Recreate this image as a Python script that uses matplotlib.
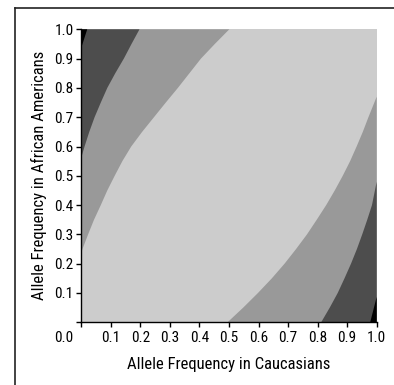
import matplotlib
matplotlib.use("Agg")
import matplotlib.pyplot as plt
from matplotlib.lines import Line2D

plt.rcParams['font.family'] = ['Roboto Condensed', 'DejaVu Sans']

# Contour boundaries (x = Caucasians, y = African Americans)
# upper-left side
ul_light_x = [0.0, 0.004, 0.023, 0.043, 0.066, 0.088, 0.113, 0.139, 0.169, 0.206,
              0.246, 0.286, 0.327, 0.366, 0.405, 0.452, 0.501]
ul_light_y = [0.2375, 0.25, 0.3, 0.35, 0.4, 0.45, 0.5, 0.55, 0.6, 0.65,
              0.7, 0.75, 0.8, 0.85, 0.9, 0.95, 1.0]
ul_dark_x = [0.0, 0.011, 0.027, 0.045, 0.066, 0.088, 0.115, 0.144, 0.170, 0.197]
ul_dark_y = [0.562, 0.6, 0.65, 0.7, 0.75, 0.8, 0.85, 0.9, 0.95, 1.0]
ul_black_x = [0.0, 0.02]
ul_black_y = [0.937, 1.0]
# lower-right side
lr_light_x = [0.495, 0.548, 0.598, 0.645, 0.688, 0.727, 0.764, 0.797, 0.829, 0.858,
              0.885, 0.910, 0.932, 0.953, 0.972, 1.0]
lr_light_y = [0.0, 0.05, 0.1, 0.15, 0.2, 0.25, 0.3, 0.35, 0.4, 0.45,
              0.5, 0.55, 0.6, 0.65, 0.7, 0.77]
lr_dark_x = [0.812, 0.841, 0.868, 0.891, 0.913, 0.933, 0.951, 0.968, 0.984, 1.0]
lr_dark_y = [0.0, 0.05, 0.1, 0.15, 0.2, 0.25, 0.3, 0.35, 0.4, 0.48]
lr_black_x = [0.978, 1.0]
lr_black_y = [0.0, 0.087]

level_colors = ['#cccccc', '#999999', '#4d4d4d', '#000000']

x_ticks = [0.1, 0.2, 0.3, 0.4, 0.5, 0.6, 0.7, 0.8, 0.9, 1.0]
y_ticks = [0.1, 0.2, 0.3, 0.4, 0.5, 0.6, 0.7, 0.8, 0.9, 1.0]
x_label = 'Allele Frequency in Caucasians'
y_label = 'Allele Frequency in African Americans'
corner_label = '0.0'

W, H = 394, 385
fig = plt.figure(figsize=(W / 100, H / 100), dpi=100)
ax = fig.add_axes([81.3 / W, (H - 322.3) / H, 295.4 / W, 293 / H])

ax.set_facecolor(level_colors[0])
# upper-left regions (fill towards corner (0,1))
ax.fill(ul_light_x + [0.0], ul_light_y + [1.0], color=level_colors[1], lw=0)
ax.fill(ul_dark_x + [0.0], ul_dark_y + [1.0], color=level_colors[2], lw=0)
ax.fill(ul_black_x + [0.0], ul_black_y + [1.0], color=level_colors[3], lw=0)
# lower-right regions (fill towards corner (1,0))
ax.fill(lr_light_x + [1.0], lr_light_y + [0.0], color=level_colors[1], lw=0)
ax.fill(lr_dark_x + [1.0], lr_dark_y + [0.0], color=level_colors[2], lw=0)
ax.fill(lr_black_x + [1.0], lr_black_y + [0.0], color=level_colors[3], lw=0)

ax.set_xlim(0, 1)
ax.set_ylim(0, 1)
ax.spines['top'].set_visible(False)
ax.spines['right'].set_visible(False)
for s in ('left', 'bottom'):
    ax.spines[s].set_linewidth(1.0)
    ax.spines[s].set_color('black')

ax.set_xticks([0.0] + x_ticks)
ax.set_xticklabels([''] + ['%.1f' % v for v in x_ticks])
ax.set_yticks([0.0] + y_ticks)
ax.set_yticklabels([''] + ['%.1f' % v for v in y_ticks])
ax.tick_params(direction='out', length=3.5, width=1.0, labelsize=11, color='black')
ax.tick_params(axis='y', pad=2)
ax.tick_params(axis='x', pad=3)

ax.annotate(corner_label, xy=(0, 0), xycoords='axes fraction',
            xytext=(-5.5, -6.5), textcoords='offset points',
            ha='right', va='top', fontsize=11)

ax.set_xlabel(x_label, fontsize=12, labelpad=8.5)
ax.set_ylabel(y_label, fontsize=12, labelpad=5)

# frame lines (partial box)
fig.add_artist(Line2D([15 / W, 1.0], [1 - 7.5 / H, 1 - 7.5 / H],
                      transform=fig.transFigure, color='#222222', lw=1.2))
fig.add_artist(Line2D([15 / W, 15 / W], [0.0, 1 - 7.5 / H],
                      transform=fig.transFigure, color='#222222', lw=1.2))

fig.savefig('out.png', dpi=100)
